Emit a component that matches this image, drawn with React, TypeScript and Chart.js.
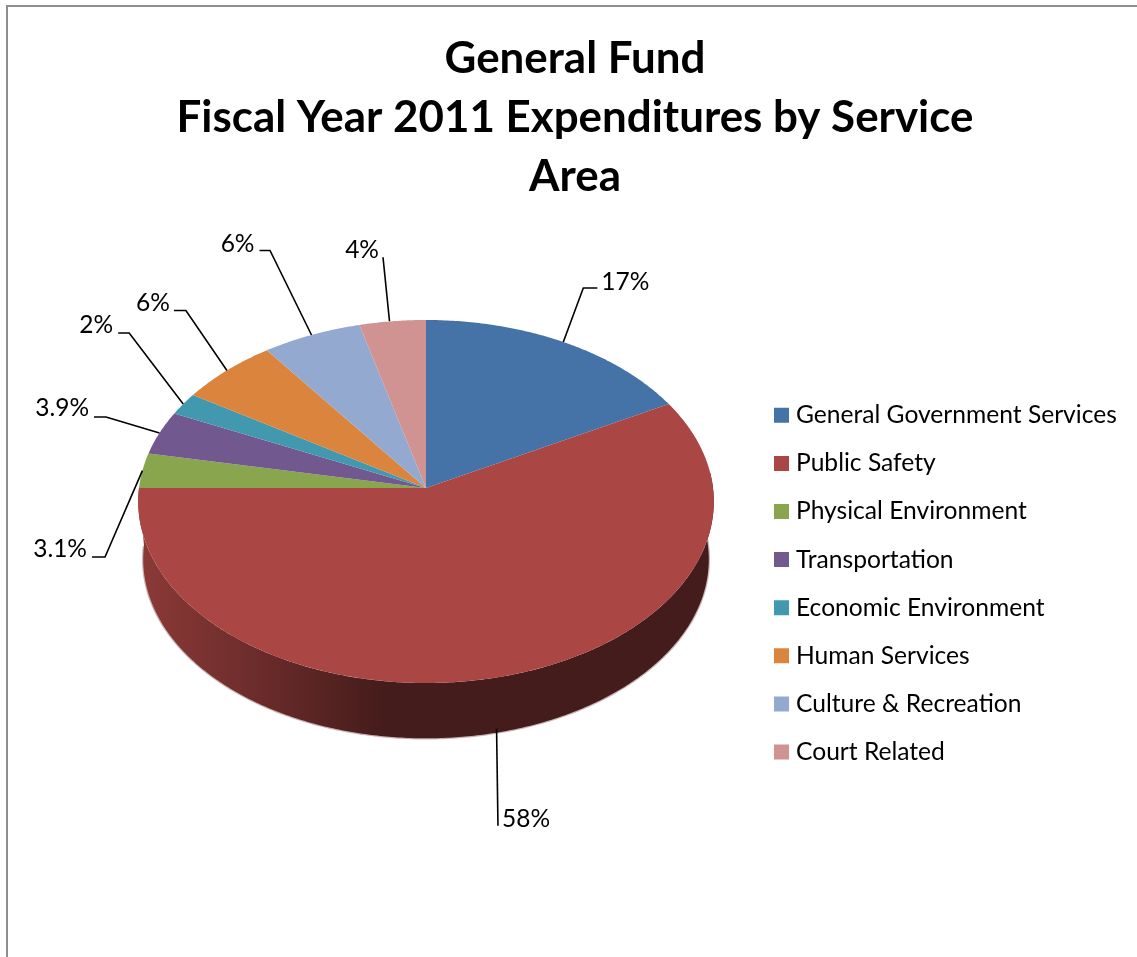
import React, { useEffect, useRef } from "react";
import { Chart, registerables } from "chart.js";

Chart.register(...registerables);

const categories = [
  "General Government Services",
  "Public Safety",
  "Physical Environment",
  "Transportation",
  "Economic Environment",
  "Human Services",
  "Culture & Recreation",
  "Court Related",
];
const sharePercent = [17, 58, 3.1, 3.9, 2, 6, 6, 4];
const sliceColors = ["#4572a7", "#aa4643", "#89a54e", "#71588f", "#4198af", "#db843d", "#93a9cf", "#d19392"];
const titleLines = ["General Fund", "Fiscal Year 2011 Expenditures by Service", "Area"];

const FONT = "Lato, Carlito, sans-serif";

// Perspective model of the tilted disc: top face and the lower rim.
const DISC = { cx: 426, cy: 488, rx: 287, ry: 180.5, tilt: 0.0744 };
const RIM = { cx: 426, cy: 546, rx: 282, ry: 178, tilt: 0.0744 };

// Leader geometry for each slice, relative to the slice's mid-arc point.
const leaders = [
  { start: [0, 0], elbow: [20, -54], run: 14, text: [4, -6], onRim: false },
  { start: [-5, -3], elbow: [-3.6, 94], run: 0, text: [4, -7], onRim: true },
  { start: [0, 0], elbow: [-37.4, 86.4], run: -13, text: [-5, -8], onRim: false },
  { start: [0, 0], elbow: [-53.5, -16], run: -12, text: [-5, -8.5], onRim: false },
  { start: [0, 0], elbow: [-54, -71], run: -11, text: [-5, -7.5], onRim: false },
  { start: [0, 0], elbow: [-41, -60], run: -12, text: [-4, -7.5], onRim: false },
  { start: [0, 0], elbow: [-41.5, -84.5], run: -10.5, text: [-5, -6.5], onRim: false },
  { start: [-3, 0], elbow: [-9.5, -64], run: 0, text: [-4, -7], onRim: false },
];

type Disc = typeof DISC;

function project(d: Disc, angle: number): [number, number] {
  const X = Math.cos(angle);
  const Y = Math.sin(angle);
  const w = 1 - d.tilt * Y;
  return [d.cx + (d.rx * X) / w, d.cy + (d.ry * Y) / w];
}

function shade(hex: string, f: number): string {
  const n = parseInt(hex.slice(1), 16);
  const r = Math.round(((n >> 16) & 255) * f);
  const g = Math.round(((n >> 8) & 255) * f);
  const b = Math.round((n & 255) * f);
  return `rgb(${r},${g},${b})`;
}

function arcPoints(d: Disc, a0: number, a1: number): [number, number][] {
  const steps = Math.max(2, Math.ceil(Math.abs(a1 - a0) / 0.01));
  const pts: [number, number][] = [];
  for (let i = 0; i <= steps; i++) pts.push(project(d, a0 + ((a1 - a0) * i) / steps));
  return pts;
}

// Replaces the flat circular drawing with a tilted disc built from the arc elements' angles.
const tiltedPie = {
  id: "tiltedPie",
  beforeDraw(chart: any) {
    const { ctx, width, height } = chart;
    ctx.save();
    ctx.strokeStyle = "#8e8e8e";
    ctx.lineWidth = 2;
    ctx.beginPath();
    ctx.moveTo(7, height);
    ctx.lineTo(7, 6);
    ctx.lineTo(width, 6);
    ctx.stroke();
    ctx.restore();
  },
  beforeDatasetsDraw(chart: any) {
    const { ctx } = chart;
    const arcs = chart.getDatasetMeta(0).data;
    const frontStart = (-5 * Math.PI) / 180;
    const frontEnd = Math.PI;
    ctx.save();
    arcs.forEach((arc: any, i: number) => {
      const a0 = Math.max(arc.startAngle, frontStart);
      const a1 = Math.min(arc.endAngle, frontEnd);
      if (a1 <= a0) return;
      const base = sliceColors[i];
      const lower = arcPoints(RIM, a0, a1);
      ctx.beginPath();
      lower.forEach(([x, y], k) => (k ? ctx.lineTo(x, y) : ctx.moveTo(x, y)));
      ctx.strokeStyle = "rgba(150,100,100,0.5)";
      ctx.lineWidth = 2.4;
      ctx.stroke();
      const g = ctx.createLinearGradient(143, 0, 385, 0);
      g.addColorStop(0, shade(base, 0.82));
      g.addColorStop(0.5, shade(base, 0.62));
      g.addColorStop(1, shade(base, 0.4));
      ctx.fillStyle = g;
      ctx.beginPath();
      arcPoints(DISC, a0, a1).forEach(([x, y], k) => (k ? ctx.lineTo(x, y) : ctx.moveTo(x, y)));
      lower.reverse().forEach(([x, y]) => ctx.lineTo(x, y));
      ctx.closePath();
      ctx.fill();
    });
    arcs.forEach((arc: any, i: number) => {
      ctx.beginPath();
      ctx.moveTo(DISC.cx, DISC.cy);
      arcPoints(DISC, arc.startAngle, arc.endAngle).forEach(([x, y]) => ctx.lineTo(x, y));
      ctx.closePath();
      ctx.fillStyle = sliceColors[i];
      ctx.fill();
    });
    ctx.restore();
    return false;
  },
  // Leader lines and percentage labels sit on top of the finished disc.
  afterDraw(chart: any) {
    const { ctx } = chart;
    const arcs = chart.getDatasetMeta(0).data;
    ctx.save();
    ctx.strokeStyle = "#000";
    ctx.lineWidth = 1.6;
    ctx.fillStyle = "#000";
    ctx.font = `24.5px ${FONT}`;
    ctx.textBaseline = "middle";
    arcs.forEach((arc: any, i: number) => {
      const l = leaders[i];
      const mid = (arc.startAngle + arc.endAngle) / 2;
      const [ax, ay] = project(l.onRim ? RIM : DISC, mid);
      const ex = ax + l.elbow[0];
      const ey = ay + l.elbow[1];
      const rx = ex + l.run;
      ctx.beginPath();
      ctx.moveTo(ax + l.start[0], ay + l.start[1]);
      ctx.lineTo(ex, ey);
      ctx.lineTo(rx, ey);
      ctx.stroke();
      ctx.textAlign = l.text[0] > 0 ? "left" : "right";
      ctx.fillText(`${sharePercent[i]}%`, rx + l.text[0], ey + l.text[1]);
    });
    ctx.restore();
  },
  // Pins the legend column beside the disc.
  afterLayout(chart: any) {
    const lg = chart.legend;
    lg.left = 755.8;
    lg.right = lg.left + lg.width;
    lg.top = 379.5;
    lg.bottom = 957;
  },
};

const pieLegendItems = (Chart as any).overrides.pie.plugins.legend.labels.generateLabels;

export default function App() {
  const ref = useRef<HTMLCanvasElement | null>(null);
  useEffect(() => {
    const chart = new Chart(ref.current as HTMLCanvasElement, {
      type: "pie",
      data: {
        labels: categories,
        datasets: [{ data: sharePercent, backgroundColor: sliceColors, borderWidth: 0 }],
      },
      options: {
        responsive: false,
        animation: false,
        events: [],
        devicePixelRatio: 1,
        layout: { padding: { left: 13 } },
        plugins: {
          tooltip: { enabled: false },
          title: {
            display: true,
            text: titleLines,
            color: "#000",
            font: { family: FONT, weight: "bold", size: 43.9, lineHeight: 1.335 },
            padding: { top: 30, bottom: 10 },
          },
          legend: {
            display: true,
            position: "right",
            align: "start",
            labels: {
              color: "#000",
              font: { family: FONT, size: 24.6 },
              boxWidth: 4.4,
              boxHeight: 4.4,
              padding: 23.5,
              // A thick outline around a narrow box keeps the label close to its swatch.
              generateLabels: (c: any) =>
                pieLegendItems(c).map((item: any, i: number) => ({
                  ...item,
                  lineWidth: 10.6,
                  strokeStyle: sliceColors[i],
                })),
            },
          },
        },
      } as any,
      plugins: [tiltedPie as any],
    });
    return () => chart.destroy();
  }, []);
  return (
    <div style={{ position: "absolute", left: 0, top: 0, width: 1137, height: 957, background: "#fff" }}>
      <canvas ref={ref} width={1137} height={957} style={{ display: "block" }} />
    </div>
  );
}
